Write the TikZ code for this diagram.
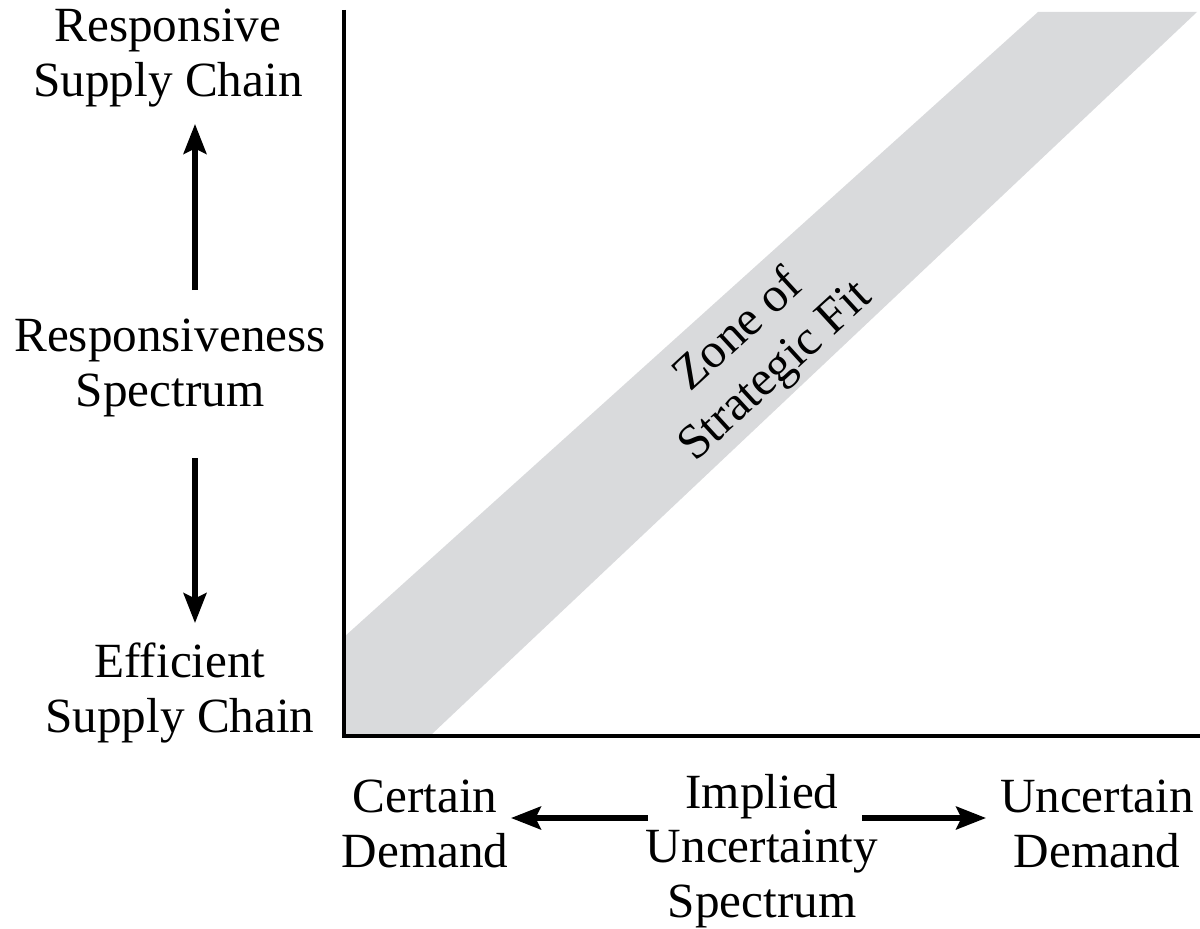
\documentclass[tikz,border=0pt]{standalone}
\usepackage{fontspec}
\setmainfont{Liberation Serif}
\usetikzlibrary{arrows.meta}
\begin{document}
\begin{tikzpicture}[x=0.02cm,y=-0.02cm,
  lbl/.style={align=center,font=\fontsize{28}{31}\selectfont,inner sep=0pt},
  arr/.style={line width=3pt,-{Stealth[length=17pt,width=13pt,inset=3pt]}},
  axis/.style={line width=2.4pt}]
\useasboundingbox (0,0) rectangle (1200,929);
% band
\fill[fill={rgb,255:red,217;green,218;blue,220}] (344,637) -- (1038,12) -- (1197,12) -- (432,734) -- (344,734) -- cycle;
% axes
\coordinate (ytop) at (344,10);
\coordinate (origin) at (344,736);
\coordinate (xend) at (1200,736);
\draw[axis] (ytop) -- (origin) -- (xend);
% labels
\node[lbl] (resp) at (168,58) {Responsive\\Supply Chain};
\node[lbl] (spec) at (170,368) {Responsiveness\\Spectrum};
\node[lbl] (eff) at (180,693) {Efficient\\Supply Chain};
\node[lbl] (cert) at (425,824) {Certain\\Demand};
\node[lbl] (impl) at (762,851) {Implied\\Uncertainty\\Spectrum};
\node[lbl] (unc) at (1097,824) {Uncertain\\Demand};
\node[lbl,rotate=42.5] (zone) at (758,352) {Zone of\\Strategic Fit};
% arrows
\coordinate (u0) at (195,290); \coordinate (u1) at (195,124);
\coordinate (d0) at (195,458); \coordinate (d1) at (195,623);
\coordinate (l0) at (648,818); \coordinate (l1) at (511,818);
\coordinate (r0) at (862,818); \coordinate (r1) at (986,818);
\draw[arr] (u0) -- (u1);
\draw[arr] (d0) -- (d1);
\draw[arr] (l0) -- (l1);
\draw[arr] (r0) -- (r1);
\end{tikzpicture}
\end{document}
